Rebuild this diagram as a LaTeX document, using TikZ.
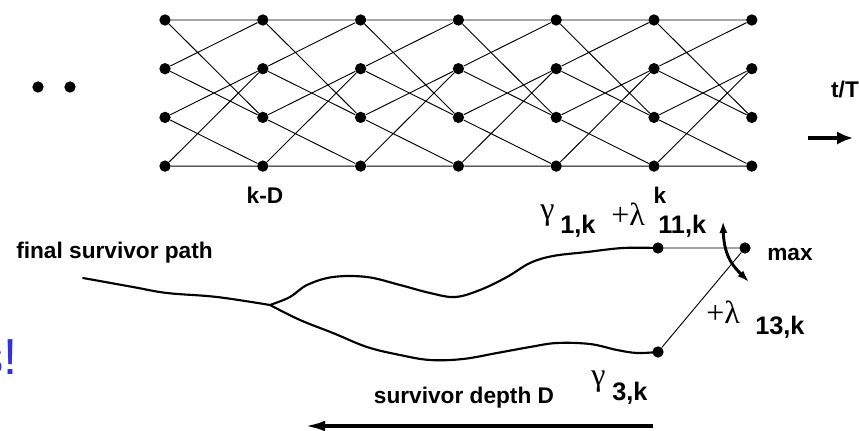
\documentclass[tikz,border=0pt]{standalone}
\usepackage{fontspec}
\setmainfont{Liberation Sans}
\newfontfamily\grkfont{Liberation Serif}
\usepackage{tikz}
\usetikzlibrary{arrows.meta}
\definecolor{slideblue}{RGB}{50,50,215}
\tikzset{
  dot/.style={circle,fill=black,inner sep=0pt,minimum size=8.5pt},
  tr/.style={line width=0.7pt},
  surv/.style={line width=1.6pt,line join=round,line cap=round},
  ar/.style={-{Latex[length=15pt,width=8pt]},line width=2.6pt},
  sw/.style={{Latex[length=9pt,width=6pt]}-{Latex[length=9pt,width=6pt]},line width=2.2pt},
  lbl/.style={font=\bfseries\fontsize{17}{17}\selectfont,inner sep=0pt},
  idx/.style={font=\bfseries\fontsize{19}{19}\selectfont,inner sep=0pt,anchor=base west},
  grk/.style={font=\grkfont\fontsize{24}{24}\selectfont,inner sep=0pt,anchor=base west}
}

\begin{document}
\begin{tikzpicture}[x=0.75pt,y=-0.75pt]
\useasboundingbox (0,0) rectangle (859,431);
\foreach \c in {0,...,6}{\foreach \r in {0,...,3}{
  \node[dot] (t\c\r) at ({165+97.8*\c},{20+48.7*\r}) {};}}
\foreach \c in {0,...,5}{\pgfmathtruncatemacro\n{\c+1}
  \draw[tr] (t\c0)--(t\n0) (t\c0)--(t\n2) (t\c1)--(t\n0) (t\c1)--(t\n2)
    (t\c2)--(t\n1) (t\c2)--(t\n3) (t\c3)--(t\n1) (t\c3)--(t\n3);}
\node[dot] (d1) at (38,87) {};
\node[dot] (d2) at (70,87) {};
\node[lbl,anchor=base] (kd) at (265,203) {k-D};
\node[lbl,anchor=base] (kk) at (660,203) {k};
\node[lbl,anchor=base] (tt) at (845,98) {t/T};
\coordinate (ta) at (808,138);
\coordinate (tb) at (853,138);
\draw[ar,-{Latex[length=12pt,width=10pt]}] (ta)--(tb);
\node[font=\fontsize{38}{38}\selectfont,text=slideblue,anchor=base east,inner sep=0pt] (ex) at (18,374) {s!};
\node[lbl,anchor=base west] (fsp) at (16,258) {final survivor path};
\coordinate (st) at (83,278);
\coordinate (jn) at (270,305);
\node[dot] (n1) at (658,248) {};
\node[dot] (n3) at (658,352) {};
\node[dot] (mx) at (745,248) {};
\node[lbl,anchor=base west] (mxl) at (767,260) {max};
\draw[surv] plot[smooth,tension=0.6] coordinates {(st) (133,287) (167,293) (217,297) (jn)};
\draw[surv] plot[smooth,tension=0.6] coordinates {(jn) (290,297) (307,285) (333,277) (367,277)
  (400,285) (430,293) (455,297) (480,290) (507,277) (530,263) (553,256) (587,252) (623,248) (n1.center)};
\draw[surv] plot[smooth,tension=0.6] coordinates {(jn) (300,320) (333,333) (367,347) (400,355)
  (430,360) (463,359) (497,353) (530,347) (557,343) (590,344) (617,350) (637,353) (n3.center)};
\draw[tr] (n1)--(mx) (n3)--(mx);
\coordinate (swa) at (723,221);
\coordinate (swb) at (749,282);
\draw[sw] (swa) .. controls (724,258) and (735,268) .. (swb);
\node[grk] (g1) at (540,219) {γ};
\node[idx] (g1i) at (560,233) {1,k};
\node[grk] (l1) at (611,225) {+λ};
\node[idx] (l1i) at (658,233) {11,k};
\node[grk] (l3) at (706,323) {+λ};
\node[idx] (l3i) at (755,334) {13,k};
\node[grk] (g3) at (591,385) {γ};
\node[idx] (g3i) at (612,400) {3,k};
\node[lbl,anchor=base] (sd) at (464,403) {survivor depth D};
\coordinate (da) at (653,426);
\coordinate (db) at (305,426);
\draw[ar] (da)--(db);
\end{tikzpicture}
\end{document}
